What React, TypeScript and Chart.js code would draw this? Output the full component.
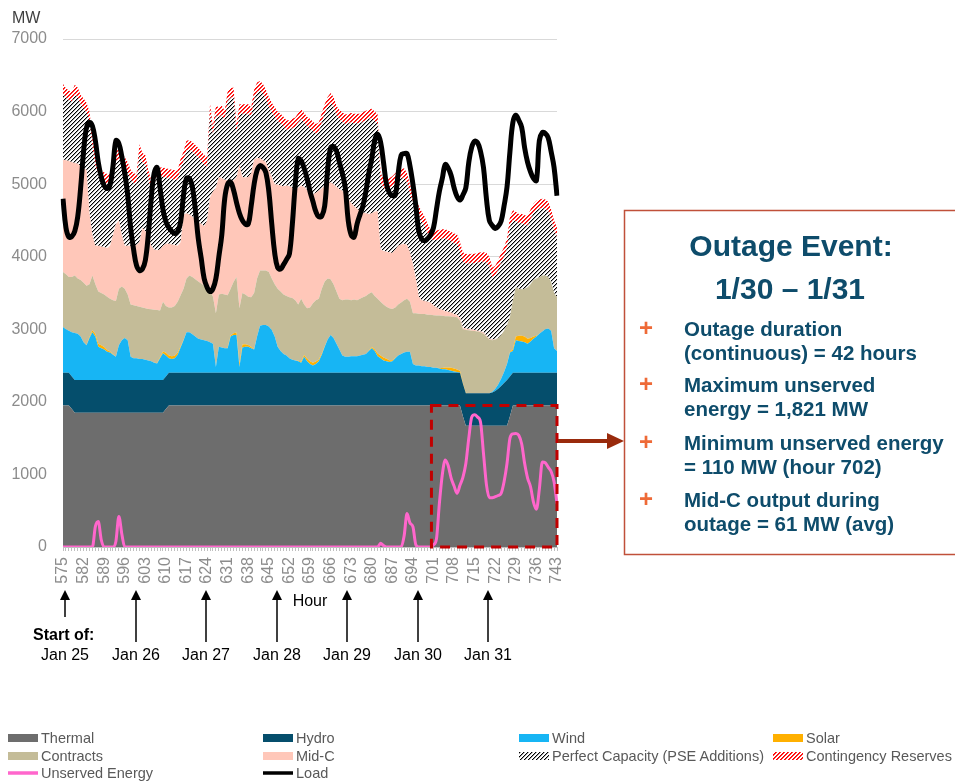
import React, { useEffect, useRef } from "react";
import { Chart, registerables } from "chart.js";

Chart.register(...registerables);

// ---------------- DATA ----------------
const FIRST_HOUR = 575;
const LAST_HOUR = 743;
const hours: string[] = [];
for (let h = FIRST_HOUR; h <= LAST_HOUR; h++) hours.push(String(h));

const dayStartHours = [575, 599, 623, 647, 671, 695, 719];
const dayLabels = ["Jan 25", "Jan 26", "Jan 27", "Jan 28", "Jan 29", "Jan 30", "Jan 31"];

// Thermal (MW)
const thermal = [
  1950, 1950, 1950, 1900, 1850, 1850, 1850, 1850, 1850, 1850,
  1850, 1850, 1850, 1850, 1850, 1850, 1850, 1850, 1850, 1850,
  1850, 1850, 1850, 1850, 1850, 1850, 1850, 1850, 1850, 1850,
  1850, 1850, 1850, 1850, 1850, 1900, 1950, 1950, 1950, 1950,
  1950, 1950, 1950, 1950, 1950, 1950, 1950, 1950, 1950, 1950,
  1950, 1950, 1950, 1950, 1950, 1950, 1950, 1950, 1950, 1950,
  1950, 1950, 1950, 1950, 1950, 1950, 1950, 1950, 1950, 1950,
  1950, 1950, 1950, 1950, 1950, 1950, 1950, 1950, 1950, 1950,
  1950, 1950, 1950, 1950, 1950, 1950, 1950, 1950, 1950, 1950,
  1950, 1950, 1950, 1950, 1950, 1950, 1950, 1950, 1950, 1950,
  1950, 1950, 1950, 1950, 1950, 1950, 1950, 1950, 1950, 1950,
  1950, 1950, 1950, 1950, 1950, 1950, 1950, 1950, 1950, 1950,
  1950, 1950, 1950, 1950, 1950, 1950, 1950, 1950, 1950, 1950,
  1950, 1950, 1950, 1950, 1950, 1950, 1800, 1670, 1670, 1670,
  1670, 1670, 1670, 1670, 1670, 1670, 1670, 1670, 1670, 1670,
  1670, 1670, 1800, 1950, 1950, 1950, 1950, 1950, 1950, 1950,
  1950, 1950, 1950, 1950, 1950, 1950, 1950, 1950, 1950,
];

// Hydro (MW)
const hydro = [
  450, 450, 450, 450, 450, 450, 450, 450, 450, 450,
  450, 450, 450, 450, 450, 450, 450, 450, 450, 450,
  450, 450, 450, 450, 450, 450, 450, 450, 450, 450,
  450, 450, 450, 450, 450, 450, 450, 450, 450, 450,
  450, 450, 450, 450, 450, 450, 450, 450, 450, 450,
  450, 450, 450, 450, 450, 450, 450, 450, 450, 450,
  450, 450, 450, 450, 450, 450, 450, 450, 450, 450,
  450, 450, 450, 450, 450, 450, 450, 450, 450, 450,
  450, 450, 450, 450, 450, 450, 450, 450, 450, 450,
  450, 450, 450, 450, 450, 450, 450, 450, 450, 450,
  450, 450, 450, 450, 450, 450, 450, 450, 450, 450,
  450, 450, 450, 450, 450, 450, 450, 450, 450, 450,
  450, 450, 450, 450, 450, 450, 450, 450, 450, 450,
  450, 450, 450, 450, 450, 450, 450, 450, 450, 450,
  450, 450, 450, 450, 450, 450, 460, 480, 510, 550,
  590, 630, 550, 450, 450, 450, 450, 450, 450, 450,
  450, 450, 450, 450, 450, 450, 450, 450, 450,
];

// Wind (MW)
const wind = [
  630, 600, 580, 610, 650, 640, 600, 520, 480, 580,
  660, 600, 460, 440, 420, 390, 380, 350, 320, 480,
  550, 580, 550, 320, 300, 300, 290, 290, 280, 270,
  260, 240, 230, 300, 370, 290, 200, 190, 200, 250,
  350, 450, 560, 560, 530, 500, 470, 460, 450, 440,
  420, 400, 80, 360, 350, 340, 340, 500, 520, 520,
  80, 350, 360, 360, 340, 320, 500, 650, 660, 660,
  640, 590, 500, 360, 300, 260, 240, 200, 180, 170,
  160, 140, 220, 160, 120, 100, 120, 160, 250, 360,
  460, 520, 480, 400, 320, 240, 220, 220, 230, 230,
  230, 240, 250, 260, 300, 340, 300, 230, 200, 170,
  160, 150, 160, 200, 240, 260, 280, 290, 290, 120,
  100, 100, 90, 90, 80, 80, 70, 70, 60, 50,
  50, 40, 30, 20, 10, 5, 0, 0, 0, 0,
  0, 0, 0, 0, 0, 0, 10, 30, 60, 100,
  150, 220, 330, 300, 450, 440, 430, 420, 400, 430,
  470, 500, 540, 570, 600, 610, 580, 340, 300,
];

// Solar (MW)
const solar = [
  0, 0, 0, 0, 0, 0, 0, 0, 5, 15,
  25, 35, 40, 40, 35, 25, 15, 5, 0, 0,
  0, 0, 0, 0, 0, 0, 0, 0, 0, 0,
  0, 0, 5, 15, 25, 35, 40, 40, 35, 25,
  15, 5, 0, 0, 0, 0, 0, 0, 0, 0,
  0, 0, 0, 0, 0, 0, 5, 15, 25, 35,
  40, 40, 35, 25, 15, 5, 0, 0, 0, 0,
  0, 0, 0, 0, 0, 0, 0, 0, 0, 0,
  5, 15, 25, 35, 40, 40, 35, 25, 15, 5,
  0, 0, 0, 0, 0, 0, 0, 0, 0, 0,
  0, 0, 0, 0, 5, 15, 25, 35, 40, 40,
  35, 25, 15, 5, 0, 0, 0, 0, 0, 0,
  0, 0, 0, 0, 0, 0, 0, 0, 5, 15,
  25, 35, 40, 40, 35, 25, 15, 5, 0, 0,
  0, 0, 0, 0, 0, 0, 0, 0, 0, 0,
  0, 0, 10, 30, 50, 70, 80, 80, 70, 50,
  30, 10, 0, 0, 0, 0, 0, 0, 0,
];

// Contracts (MW)
const contracts = [
  760, 760, 740, 760, 790, 760, 780, 820, 815, 725,
  755, 685, 720, 720, 725, 735, 725, 745, 770, 780,
  740, 680, 630, 720, 730, 720, 720, 710, 710, 710,
  715, 730, 730, 645, 685, 645, 660, 670, 685, 705,
  705, 705, 740, 780, 790, 790, 790, 770, 750, 720,
  710, 650, 740, 720, 740, 740, 725, 645, 705, 765,
  770, 710, 685, 665, 685, 775, 800, 760, 750, 750,
  750, 710, 720, 800, 820, 820, 820, 840, 850, 830,
  775, 865, 695, 695, 740, 820, 845, 835, 895, 895,
  840, 770, 740, 720, 700, 760, 790, 790, 770, 780,
  770, 780, 790, 800, 785, 755, 735, 755, 740, 730,
  715, 715, 705, 695, 700, 710, 720, 730, 690, 700,
  720, 715, 720, 720, 720, 720, 725, 720, 725, 720,
  705, 705, 705, 710, 720, 690, 735, 865, 865, 860,
  855, 850, 840, 820, 780, 740, 710, 680, 640, 600,
  570, 540, 480, 670, 680, 650, 640, 660, 710, 740,
  780, 790, 780, 770, 740, 710, 670, 760, 740,
];

// Mid-C (MW)
const midC = [
  1550, 1570, 1600, 1580, 1550, 1580, 1570, 1580, 1600, 980,
  560, 530, 630, 640, 650, 670, 730, 900, 1060, 940,
  710, 590, 670, 810, 820, 840, 890, 1100, 1060, 1020,
  875, 830, 825, 840, 770, 860, 880, 870, 840, 770,
  730, 1020, 900, 840, 830, 830, 820, 820, 820, 940,
  1290, 1450, 1730, 1620, 1590, 1580, 1580, 1490, 1400, 1370,
  1980, 1600, 1610, 1650, 1710, 1840, 1660, 1550, 1520, 1490,
  1410, 1400, 1380, 1430, 1460, 1490, 1520, 1530, 1520, 1520,
  1610, 1560, 1620, 1630, 1580, 1500, 1480, 1490, 1380, 1320,
  1310, 1335, 1380, 1440, 1510, 1510, 1450, 1390, 1340, 1290,
  1260, 1210, 1170, 1140, 1100, 1090, 1160, 1210, 720, 740,
  760, 770, 770, 800, 810, 800, 780, 740, 680, 680,
  480, 235, 190, 180, 180, 170, 135, 110, 90, 85,
  70, 60, 55, 40, 35, 40, 20, 20, 20, 20,
  15, 10, 10, 20, 10, 10, 10, 5, 0, 0,
  0, 0, 0, 0, 0, 0, 0, 0, 0, 0,
  0, 0, 0, 0, 0, 0, 0, 0, 0,
];

// Perfect Capacity (PSE Additions) (MW)
const perfectCapacity = [
  910, 860, 840, 840, 950, 920, 850, 830, 790, 1270,
  1220, 1100, 1000, 930, 900, 890, 870, 740, 870, 850,
  990, 1090, 1020, 920, 870, 850, 1220, 900, 920, 770,
  770, 920, 1000, 1000, 950, 910, 900, 900, 900, 910,
  1020, 740, 870, 890, 900, 890, 890, 870, 850, 740,
  1150, 770, 1000, 830, 870, 820, 1100, 1140, 1150, 610,
  700, 870, 880, 870, 780, 830, 910, 930, 920, 870,
  870, 890, 930, 880, 860, 830, 770, 780, 820, 870,
  900, 920, 890, 880, 890, 870, 820, 810, 910, 990,
  1060, 1100, 1070, 990, 960, 950, 970, 1040, 1110, 1140,
  1180, 1210, 1250, 1280, 1310, 1310, 1250, 1200, 920, 870,
  850, 890, 930, 920, 910, 910, 910, 860, 810, 850,
  950, 1120, 1090, 1030, 940, 880, 900, 930, 960, 980,
  1000, 990, 980, 980, 980, 910, 910, 900, 900, 910,
  920, 940, 960, 970, 1010, 1000, 860, 880, 940, 1000,
  1020, 1060, 1250, 1110, 910, 900, 910, 880, 850, 900,
  920, 940, 940, 930, 920, 910, 870, 870, 830,
];

// Contingency Reserves (MW)
const contingency = [
  130, 130, 130, 130, 130, 130, 130, 130, 130, 130,
  130, 130, 130, 130, 130, 130, 130, 130, 130, 130,
  130, 130, 130, 130, 130, 130, 130, 130, 130, 130,
  130, 130, 130, 130, 130, 130, 130, 130, 130, 130,
  130, 130, 130, 130, 130, 130, 130, 130, 130, 130,
  130, 130, 130, 130, 130, 130, 130, 130, 130, 130,
  130, 130, 130, 130, 130, 130, 130, 130, 130, 130,
  130, 130, 130, 130, 130, 130, 130, 130, 130, 130,
  130, 130, 130, 130, 130, 130, 130, 130, 130, 130,
  130, 130, 130, 130, 130, 130, 130, 130, 130, 130,
  130, 130, 130, 130, 130, 130, 130, 130, 130, 130,
  130, 130, 130, 130, 130, 130, 130, 130, 130, 130,
  130, 130, 130, 130, 130, 130, 130, 130, 130, 130,
  130, 130, 130, 130, 130, 130, 130, 130, 130, 130,
  130, 130, 130, 130, 130, 130, 130, 130, 130, 130,
  130, 130, 130, 130, 130, 130, 130, 130, 130, 130,
  130, 130, 130, 130, 130, 130, 130, 130, 130,
];

// Unserved Energy (MW)
const unservedEnergy = [
  0, 0, 0, 0, 0, 0, 0, 0, 0, 0,
  0, 280, 350, 100, 0, 0, 0, 0, 80, 420,
  180, 0, 0, 0, 0, 0, 0, 0, 0, 0,
  0, 0, 0, 0, 0, 0, 0, 0, 0, 0,
  0, 0, 0, 0, 0, 0, 0, 0, 0, 0,
  0, 0, 0, 0, 0, 0, 0, 0, 0, 0,
  0, 0, 0, 0, 0, 0, 0, 0, 0, 0,
  0, 0, 0, 0, 0, 0, 0, 0, 0, 0,
  0, 0, 0, 0, 0, 0, 0, 0, 0, 0,
  0, 0, 0, 0, 0, 0, 0, 0, 0, 0,
  0, 0, 0, 0, 0, 0, 0, 0, 50, 20,
  0, 0, 0, 0, 0, 0, 150, 460, 330, 280,
  30, 0, 0, 0, 0, 0, 30, 110, 600, 1000,
  1200, 1120, 950, 840, 740, 850, 960, 1150, 1500, 1790,
  1821, 1790, 1720, 1290, 860, 680, 680, 693, 710, 740,
  900, 1150, 1500, 1560, 1565, 1540, 1420, 1150, 950, 830,
  620, 520, 800, 1170, 1160, 1100, 1040, 900, 600,
];

// Load (MW)
const load = [
  4800, 4400, 4270, 4280, 4350, 4550, 4950, 5450, 5780, 5850,
  5800, 5600, 5300, 5100, 4980, 4940, 4990, 5250, 5600, 5560,
  5380, 5150, 4850, 4400, 4100, 3880, 3810, 3830, 3950, 4300,
  4800, 5150, 5230, 4950, 4650, 4480, 4400, 4350, 4320, 4350,
  4480, 4850, 5080, 5080, 4960, 4650, 4250, 3980, 3700, 3580,
  3520, 3560, 3700, 4000, 4300, 4800, 5000, 5030, 4920, 4750,
  4600, 4500, 4450, 4450, 4700, 5000, 5190, 5255, 5230, 5160,
  4900, 4450, 4050, 3850, 3830, 3890, 3960, 4040, 4450, 5000,
  5350, 5320, 5220, 5080, 4900, 4760, 4620, 4550, 4560, 4700,
  5200, 5500, 5520, 5460, 5300, 5150, 4950, 4500, 4300, 4270,
  4450, 4580, 4700, 4900, 5150, 5350, 5600, 5690, 5580, 5300,
  5000, 4880, 4840, 4850, 5150, 5400, 5420, 5420, 5250, 5000,
  4700, 4350, 4240, 4220, 4250, 4300, 4400, 4650, 4900, 5080,
  5270, 5220, 5120, 4950, 4830, 4780, 4850, 4950, 5300, 5510,
  5590, 5570, 5450, 5230, 4800, 4500, 4430, 4390, 4420, 4490,
  4700, 4960, 5450, 5850, 5950, 5880, 5780, 5500, 5300, 5170,
  5080, 5050, 5600, 5710, 5700, 5640, 5450, 5230, 4840,
];

const yTicks = [0, 1000, 2000, 3000, 4000, 5000, 6000, 7000];
const outageStartHour = 700.3;
const outageEndHour = 743;
const outageTopMW = 1950;

// ---------------- STYLE ----------------
const FONT = '"Liberation Sans", Arial, Helvetica, sans-serif';
const C = {
  thermal: "#6D6D6D",
  hydro: "#054E6C",
  wind: "#17B5F4",
  solar: "#FFB000",
  contracts: "#C4BC98",
  midC: "#FFC7B9",
  unserved: "#FF66CC",
  load: "#000000",
  rect: "#C00000",
  textBlue: "#0E4C6B",
  plus: "#EE6A37",
  boxBorder: "#C0503A",
  arrow: "#992A0C",
};

// Pixel-exact "/" hatch: 4px period, one solid diagonal pixel run plus a softer neighbour.
function makeHatch(ctx: CanvasRenderingContext2D, rgb: [number, number, number], soft: number): CanvasPattern {
  const t = document.createElement("canvas");
  t.width = 4;
  t.height = 4;
  const g = t.getContext("2d")!;
  const img = g.createImageData(4, 4);
  for (let y = 0; y < 4; y++) {
    for (let x = 0; x < 4; x++) {
      const k = (x + y) % 4;
      const a = k === 3 ? 1 : k === 0 ? soft : 0;
      const o = (y * 4 + x) * 4;
      img.data[o] = Math.round(255 * (1 - a) + rgb[0] * a);
      img.data[o + 1] = Math.round(255 * (1 - a) + rgb[1] * a);
      img.data[o + 2] = Math.round(255 * (1 - a) + rgb[2] * a);
      img.data[o + 3] = 255;
    }
  }
  g.putImageData(img, 0, 0);
  return ctx.createPattern(t, "repeat")!;
}

const overlayPlugin = {
  id: "overlay",
  afterDraw(chart: any) {
    const { ctx, scales } = chart;
    const xs = scales.x;
    const ys = scales.y;
    ctx.save();

    // Y unit label
    ctx.fillStyle = "#404040";
    ctx.font = `16px ${FONT}`;
    ctx.textAlign = "left";
    ctx.textBaseline = "alphabetic";
    ctx.fillText("MW", 12, 23);

    // Outage dashed rectangle
    const x1 = xs.getPixelForValue(outageStartHour - FIRST_HOUR);
    const x2 = xs.getPixelForValue(outageEndHour - FIRST_HOUR);
    const y1 = ys.getPixelForValue(outageTopMW);
    const y2 = ys.getPixelForValue(0);
    ctx.strokeStyle = C.rect;
    ctx.lineWidth = 3;
    ctx.setLineDash([10, 7]);
    ctx.strokeRect(x1, y1, x2 - x1, y2 - y1);
    ctx.setLineDash([]);

    // Arrow from rectangle to the text box
    const ay = 441;
    ctx.strokeStyle = C.arrow;
    ctx.fillStyle = C.arrow;
    ctx.lineWidth = 4;
    ctx.beginPath();
    ctx.moveTo(x2 + 1, ay);
    ctx.lineTo(610, ay);
    ctx.stroke();
    ctx.beginPath();
    ctx.moveTo(607, ay - 8);
    ctx.lineTo(624, ay);
    ctx.lineTo(607, ay + 8);
    ctx.closePath();
    ctx.fill();

    // Axis title
    ctx.fillStyle = "#000000";
    ctx.font = `16px ${FONT}`;
    ctx.textAlign = "center";
    ctx.fillText("Hour", (chart.chartArea.left + chart.chartArea.right) / 2, 606);

    // Day-start arrows and labels
    ctx.strokeStyle = "#000000";
    ctx.fillStyle = "#000000";
    ctx.lineWidth = 1.5;
    dayStartHours.forEach((h, i) => {
      const px = Math.round(xs.getPixelForValue(h - FIRST_HOUR)) + 2;
      const shaftEnd = i === 0 ? 617 : 642;
      ctx.beginPath();
      ctx.moveTo(px, 598);
      ctx.lineTo(px, shaftEnd);
      ctx.stroke();
      ctx.beginPath();
      ctx.moveTo(px, 590);
      ctx.lineTo(px - 5, 600);
      ctx.lineTo(px + 5, 600);
      ctx.closePath();
      ctx.fill();
      ctx.font = `16px ${FONT}`;
      ctx.textAlign = "center";
      ctx.fillText(dayLabels[i], px, 660);
    });
    ctx.font = `bold 16px ${FONT}`;
    ctx.textAlign = "left";
    ctx.fillText("Start of:", 33, 640);

    ctx.restore();
  },
};

type LegendItem = { label: string; kind: "rect" | "hatch" | "line"; color: string; col: number; row: number };
const legendItems: LegendItem[] = [
  { label: "Thermal", kind: "rect", color: C.thermal, col: 0, row: 0 },
  { label: "Hydro", kind: "rect", color: C.hydro, col: 1, row: 0 },
  { label: "Wind", kind: "rect", color: C.wind, col: 2, row: 0 },
  { label: "Solar", kind: "rect", color: C.solar, col: 3, row: 0 },
  { label: "Contracts", kind: "rect", color: C.contracts, col: 0, row: 1 },
  { label: "Mid-C", kind: "rect", color: C.midC, col: 1, row: 1 },
  { label: "Perfect Capacity (PSE Additions)", kind: "hatch", color: "#000000", col: 2, row: 1 },
  { label: "Contingency Reserves", kind: "hatch", color: "#FF0000", col: 3, row: 1 },
  { label: "Unserved Energy", kind: "line", color: C.unserved, col: 0, row: 2 },
  { label: "Load", kind: "line", color: C.load, col: 1, row: 2 },
];
const legendColX = [8, 263, 519, 773];
const legendRowY = [738, 756, 773];

const bullets: string[][] = [
  ["Outage duration", "(continuous) = 42 hours"],
  ["Maximum unserved", "energy = 1,821 MW"],
  ["Minimum unserved energy", "= 110 MW (hour 702)"],
  ["Mid-C output during", "outage = 61 MW (avg)"],
];
const bulletBaseY = [336, 392, 450, 507];

function HatchDef({ id, color, soft }: { id: string; color: string; soft: number }) {
  const cells: JSX.Element[] = [];
  for (let y = 0; y < 4; y++) {
    for (let x = 0; x < 4; x++) {
      const k = (x + y) % 4;
      if (k === 3) cells.push(<rect key={`${x}-${y}`} x={x} y={y} width={1} height={1} fill={color} />);
      if (k === 0) cells.push(<rect key={`${x}-${y}`} x={x} y={y} width={1} height={1} fill={color} opacity={soft} />);
    }
  }
  return (
    <pattern id={id} width="4" height="4" patternUnits="userSpaceOnUse">
      <rect width="4" height="4" fill="#fff" />
      {cells}
    </pattern>
  );
}

export default function App() {
  const ref = useRef<HTMLCanvasElement>(null);

  useEffect(() => {
    const canvas = ref.current!;
    const ctx = canvas.getContext("2d")!;
    const perfectPattern = makeHatch(ctx, [0, 0, 0], 0.35);
    const reservePattern = makeHatch(ctx, [255, 0, 0], 0.8);

    const area = (label: string, data: number[], bg: any, fill: any) => ({
      label,
      data,
      backgroundColor: bg,
      borderColor: "rgba(0,0,0,0)",
      borderWidth: 0,
      pointRadius: 0,
      pointHoverRadius: 0,
      fill,
      tension: 0,
      stack: "supply",
      order: 1,
    });

    const chart = new Chart(canvas, {
      type: "line",
      data: {
        labels: hours,
        datasets: [
          area("Thermal", thermal, C.thermal, "origin"),
          area("Hydro", hydro, C.hydro, "-1"),
          area("Wind", wind, C.wind, "-1"),
          area("Solar", solar, C.solar, "-1"),
          area("Contracts", contracts, C.contracts, "-1"),
          area("Mid-C", midC, C.midC, "-1"),
          area("Perfect Capacity (PSE Additions)", perfectCapacity, perfectPattern, "-1"),
          area("Contingency Reserves", contingency, reservePattern, "-1"),
          {
            label: "Unserved Energy",
            data: unservedEnergy,
            borderColor: C.unserved,
            backgroundColor: C.unserved,
            borderWidth: 3,
            pointRadius: 0,
            fill: false,
            cubicInterpolationMode: "monotone",
            stack: "unserved",
            order: 0,
          } as any,
          {
            label: "Load",
            data: load,
            borderColor: C.load,
            backgroundColor: C.load,
            borderWidth: 5,
            pointRadius: 0,
            fill: false,
            tension: 0.4,
            stack: "load",
            order: 0,
          } as any,
        ],
      },
      options: {
        responsive: false,
        animation: false,
        devicePixelRatio: 1,
        events: [],
        layout: { padding: { left: 0, right: 955 - 557, top: 39, bottom: 784 - 547 - 60 } },
        plugins: {
          legend: { display: false },
          tooltip: { enabled: false },
          title: { display: false },
        },
        scales: {
          x: {
            type: "category",
            offset: false,
            grid: {
              display: true,
              drawOnChartArea: false,
              drawTicks: true,
              tickLength: 4,
              color: "#BFBFBF",
            },
            border: { display: true, color: "#BFBFBF" },
            ticks: {
              autoSkip: false,
              maxRotation: 90,
              minRotation: 90,
              padding: 6,
              color: "#8C8C8C",
              font: { family: FONT, size: 16 },
              callback: (_v: any, i: number) => ((i % 7 === 0) ? hours[i] : ""),
            },
            afterFit: (s: any) => {
              s.height = 60;
            },
          },
          y: {
            stacked: true,
            min: 0,
            max: 7000,
            afterBuildTicks: (s: any) => {
              s.ticks = yTicks.map((v) => ({ value: v }));
            },
            grid: { color: "#D9D9D9", drawTicks: false, lineWidth: 1 },
            border: { display: false },
            ticks: {
              padding: 16,
              color: "#8C8C8C",
              font: { family: FONT, size: 16 },
              callback: (v: any) => String(v),
            },
            afterFit: (s: any) => {
              s.width = 63;
            },
          },
        },
      } as any,
      plugins: [overlayPlugin],
    });
    return () => chart.destroy();
  }, []);

  return (
    <div
      style={{
        position: "absolute",
        left: 0,
        top: 0,
        width: 955,
        height: 784,
        background: "#ffffff",
        overflow: "hidden",
      }}
    >
      <canvas
        ref={ref}
        width={955}
        height={784}
        style={{ position: "absolute", left: 0, top: 0, width: 955, height: 784 }}
      />
      <svg
        width={955}
        height={784}
        style={{ position: "absolute", left: 0, top: 0, pointerEvents: "none" }}
        fontFamily={FONT}
      >
        <defs>
          <HatchDef id="hatchBlack" color="#000000" soft={0.35} />
          <HatchDef id="hatchRed" color="#FF0000" soft={0.8} />
        </defs>

        {/* Text box */}
        <rect x={624.5} y={210.5} width={360} height={344} fill="#ffffff" stroke={C.boxBorder} strokeWidth={1.5} />
        <text x={791} y={256} textAnchor="middle" fontWeight="bold" fontSize={30} fill={C.textBlue}>
          Outage Event:
        </text>
        <text x={790} y={299} textAnchor="middle" fontWeight="bold" fontSize={30} fill={C.textBlue}>
          1/30 – 1/31
        </text>
        {bullets.map((lines, i) => (
          <g key={i}>
            <text x={646} y={bulletBaseY[i]} textAnchor="middle" fontWeight="bold" fontSize={24} fill={C.plus}>
              +
            </text>
            <text x={684} y={bulletBaseY[i]} fontWeight="bold" fontSize={20.5} fill={C.textBlue}>
              {lines[0]}
            </text>
            <text x={684} y={bulletBaseY[i] + 24} fontWeight="bold" fontSize={20.5} fill={C.textBlue}>
              {lines[1]}
            </text>
          </g>
        ))}

        {/* Legend */}
        {legendItems.map((it, i) => {
          const x = legendColX[it.col];
          const y = legendRowY[it.row];
          return (
            <g key={i}>
              {it.kind === "rect" && <rect x={x} y={y - 4} width={30} height={8} fill={it.color} />}
              {it.kind === "hatch" && (
                <rect x={x} y={y - 4} width={30} height={8} fill={it.color === "#000000" ? "url(#hatchBlack)" : "url(#hatchRed)"} />
              )}
              {it.kind === "line" && <line x1={x} y1={y} x2={x + 30} y2={y} stroke={it.color} strokeWidth={3.5} />}
              <text x={x + 33} y={y + 5} fontSize={14.5} fill="#595959">
                {it.label}
              </text>
            </g>
          );
        })}
      </svg>
    </div>
  );
}
